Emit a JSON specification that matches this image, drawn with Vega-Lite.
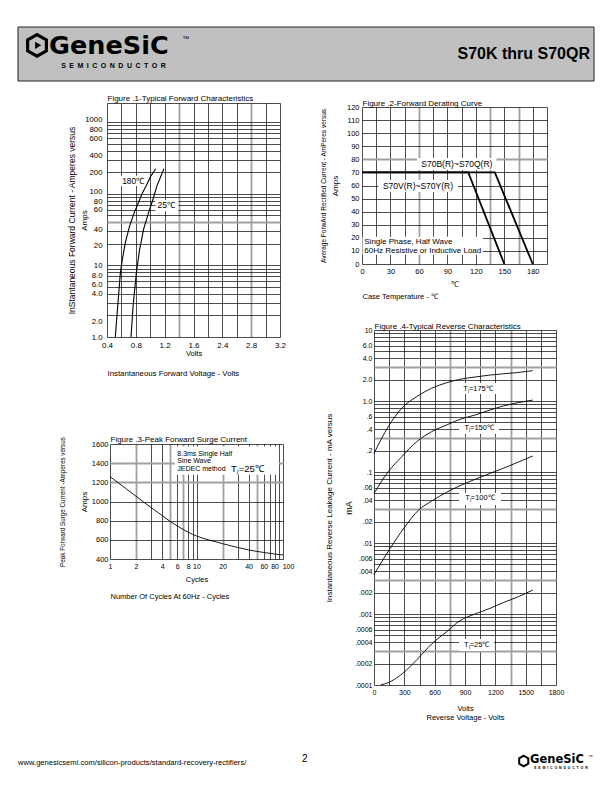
{
"$schema":"https://vega.github.io/schema/vega-lite/v6.json",
"width":612,"height":792,"autosize":{"type":"none"},"padding":0,"background":"white",
"config":{"font":"Liberation Sans","view":{"stroke":null},
 "axis":{"labelColor":"black","titleColor":"black","titleFontWeight":"normal","labelFont":"Liberation Sans","titleFont":"Liberation Sans","ticks":false,"domain":false,"grid":false,"labelOverlap":false,"labelFlush":false},
 "text":{"font":"Liberation Sans","color":"black"}},
"datasets":{
 "f1c":[{"s":"180","v":0.515,"a":1},{"s":"180","v":0.548,"a":2.65},{"s":"180","v":0.585,"a":7.8},{"s":"180","v":0.613,"a":12.1},{"s":"180","v":0.654,"a":20.8},{"s":"180","v":0.714,"a":35.6},{"s":"180","v":0.779,"a":55},{"s":"180","v":0.839,"a":76},{"s":"180","v":0.886,"a":100},{"s":"180","v":0.946,"a":130},{"s":"180","v":1.001,"a":171},{"s":"180","v":1.075,"a":224},
  {"s":"25","v":0.733,"a":1},{"s":"25","v":0.761,"a":2.65},{"s":"25","v":0.807,"a":7.8},{"s":"25","v":0.853,"a":16.7},{"s":"25","v":0.908,"a":32},{"s":"25","v":0.978,"a":55},{"s":"25","v":1.039,"a":84.5},{"s":"25","v":1.094,"a":130},{"s":"25","v":1.19,"a":224}],
 "f1t":[{"v":0.61,"a":150,"t":"180\u2103"},{"v":1.1,"a":70,"t":"25\u2103"}],
 "f1b":[{"v1":0.59,"v2":0.9,"a1":128,"a2":178},{"v1":1.07,"v2":1.39,"a1":57,"a2":82}],
 "f2c":[{"s":"B","t":0,"i":70},{"s":"B","t":140,"i":70},{"s":"B","t":180,"i":0},{"s":"V","t":0,"i":70},{"s":"V","t":112,"i":70},{"s":"V","t":150,"i":0}],
 "f2t":[{"t":100,"i":76.4,"label":"S70B(R)~S70Q(R)"},{"t":59,"i":59.6,"label":"S70V(R)~S70Y(R)"}],
 "f2n":[{"t":2.4,"i":17,"label":"Single Phase, Half Wave"},{"t":2.4,"i":10.1,"label":"60Hz Resistive or Inductive Load"}],
 "f2b":[{"t1":57.8,"t2":141.8,"i1":71.8,"i2":81},{"t1":17.1,"t2":101.2,"i1":55,"i2":64.2},{"t1":0.5,"t2":127.4,"i1":7.1,"i2":20.8}],
 "f3c":[{"n":1,"p":1260},{"n":1.5,"p":1140},{"n":2,"p":1055},{"n":3,"p":935},{"n":4,"p":855},{"n":5,"p":790},{"n":6,"p":745},{"n":8,"p":680},{"n":10,"p":640},{"n":15,"p":590},{"n":20,"p":560},{"n":30,"p":520},{"n":40,"p":495},{"n":60,"p":468},{"n":80,"p":452},{"n":100,"p":442}],
 "f3t":[{"n":6,"p":1500,"label":"8.3ms Single Half"},{"n":6,"p":1420,"label":"Sine Wave"},{"n":6,"p":1335,"label":"JEDEC method"}],
 "f3j":[{"n":25,"p":1340,"label":"T\u2c7c=25\u2103"}],
 "f3b":[{"n1":5.6,"n2":90,"p1":1280,"p2":1575}],
 "f4c":[{"s":"175","v":0,"ma":0.183},{"s":"175","v":141,"ma":0.435},{"s":"175","v":274,"ma":0.79},{"s":"175","v":422,"ma":1.15},{"s":"175","v":570,"ma":1.51},{"s":"175","v":719,"ma":1.81},{"s":"175","v":850,"ma":2.02},{"s":"175","v":1000,"ma":2.18},{"s":"175","v":1147,"ma":2.32},{"s":"175","v":1411,"ma":2.51},{"s":"175","v":1570,"ma":2.67},
  {"s":"150","v":0,"ma":0.05},{"s":"150","v":141,"ma":0.101},{"s":"150","v":274,"ma":0.164},{"s":"150","v":422,"ma":0.267},{"s":"150","v":570,"ma":0.37},{"s":"150","v":719,"ma":0.46},{"s":"150","v":850,"ma":0.552},{"s":"150","v":1000,"ma":0.635},{"s":"150","v":1147,"ma":0.746},{"s":"150","v":1279,"ma":0.85},{"s":"150","v":1570,"ma":1.03},
  {"s":"100","v":0,"ma":0.0036},{"s":"100","v":150,"ma":0.008},{"s":"100","v":300,"ma":0.0165},{"s":"100","v":440,"ma":0.029},{"s":"100","v":570,"ma":0.039},{"s":"100","v":720,"ma":0.052},{"s":"100","v":1000,"ma":0.079},{"s":"100","v":1280,"ma":0.113},{"s":"100","v":1570,"ma":0.168},
  {"s":"25","v":66,"ma":0.0001},{"s":"25","v":141,"ma":0.000108},{"s":"25","v":284,"ma":0.000146},{"s":"25","v":428,"ma":0.00023},{"s":"25","v":570,"ma":0.000378},{"s":"25","v":719,"ma":0.000564},{"s":"25","v":850,"ma":0.000805},{"s":"25","v":999,"ma":0.001},{"s":"25","v":1147,"ma":0.0012},{"s":"25","v":1279,"ma":0.00145},{"s":"25","v":1427,"ma":0.00175},{"s":"25","v":1570,"ma":0.00218}],
 "f4t":[{"v":1029,"ma":1.48,"label":"T\u2c7c=175\u2103"},{"v":1040,"ma":0.41,"label":"T\u2c7c=150\u2103"},{"v":1048,"ma":0.0426,"label":"T\u2c7c=100\u2103"},{"v":1016,"ma":0.000366,"label":"T\u2c7c=25\u2103"}],
 "f4b":[{"v1":831,"v2":1246,"m1":1.255,"m2":1.79},{"v1":841,"v2":1236,"m1":0.343,"m2":0.49},{"v1":841,"v2":1256,"m1":0.0343,"m2":0.0506},{"v1":841,"v2":1187,"m1":0.000301,"m2":0.000445}]
},
"resolve":{"scale":{"x":"independent","y":"independent"},"axis":{"x":"independent","y":"independent"}},
"layer":[
 {"data":{"values":[{}]},"layer":[
  {"mark":{"type":"rect","fill":"#c0c0c0","stroke":"#222","strokeWidth":1},
   "encoding":{"x":{"datum":0,"type":"quantitative","scale":{"domain":[0,1],"range":[18,594],"zero":false,"nice":false},"axis":null},"x2":{"datum":1},
    "y":{"datum":0,"type":"quantitative","scale":{"domain":[0,1],"range":[81,27],"zero":false,"nice":false},"axis":null},"y2":{"datum":1}}},
  {"mark":{"type":"point","shape":"M0,-1L0.866,-0.5L0.866,0.5L0,1L-0.866,0.5L-0.866,-0.5Z","filled":false,"stroke":"black","strokeWidth":3.2,"size":470,"opacity":1},
   "encoding":{"x":{"datum":0.033,"type":"quantitative","scale":{"domain":[0,1],"range":[18,594],"zero":false,"nice":false},"axis":null},
    "y":{"datum":0.66,"type":"quantitative","scale":{"domain":[0,1],"range":[81,27],"zero":false,"nice":false},"axis":null}}},
  {"mark":{"type":"point","shape":"triangle-right","filled":true,"color":"black","size":50,"opacity":1},
   "encoding":{"x":{"datum":0.035,"type":"quantitative","scale":{"domain":[0,1],"range":[18,594],"zero":false,"nice":false},"axis":null},
    "y":{"datum":0.66,"type":"quantitative","scale":{"domain":[0,1],"range":[81,27],"zero":false,"nice":false},"axis":null}}},
  {"mark":{"type":"text","text":"GeneSiC","font":"DejaVu Sans","fontWeight":"bold","fontSize":25.5,"align":"left","baseline":"middle"},
   "encoding":{"x":{"datum":0.054,"type":"quantitative","scale":{"domain":[0,1],"range":[18,594],"zero":false,"nice":false},"axis":null},
    "y":{"datum":0.655,"type":"quantitative","scale":{"domain":[0,1],"range":[81,27],"zero":false,"nice":false},"axis":null}}},
  {"mark":{"type":"text","text":"\u2122","fontSize":7,"align":"left","baseline":"middle"},
   "encoding":{"x":{"datum":0.285,"type":"quantitative","scale":{"domain":[0,1],"range":[18,594],"zero":false,"nice":false},"axis":null},
    "y":{"datum":0.78,"type":"quantitative","scale":{"domain":[0,1],"range":[81,27],"zero":false,"nice":false},"axis":null}}},
  {"mark":{"type":"text","text":"S\u2002E\u2002M\u2002I\u2002C\u2002O\u2002N\u2002D\u2002U\u2002C\u2002T\u2002O\u2002R","fontSize":7,"fontWeight":"bold","align":"left","baseline":"middle"},
   "encoding":{"x":{"datum":0.075,"type":"quantitative","scale":{"domain":[0,1],"range":[18,594],"zero":false,"nice":false},"axis":null},
    "y":{"datum":0.287,"type":"quantitative","scale":{"domain":[0,1],"range":[81,27],"zero":false,"nice":false},"axis":null}}},
  {"mark":{"type":"text","text":"S70K thru S70QR","fontSize":16,"fontWeight":"bold","align":"right","baseline":"middle"},
   "encoding":{"x":{"datum":0.993,"type":"quantitative","scale":{"domain":[0,1],"range":[18,594],"zero":false,"nice":false},"axis":null},
    "y":{"datum":0.5,"type":"quantitative","scale":{"domain":[0,1],"range":[81,27],"zero":false,"nice":false},"axis":null}}}
 ]},
 {"resolve":{"axis":{"x":"independent","y":"independent"}},"layer":[
  {"data":{"name":"f1b"},"mark":{"type":"rect","fill":"white"},
   "encoding":{"x":{"field":"v1","type":"quantitative","scale":{"domain":[0.4,2.8],"range":[107,280],"zero":false,"nice":false},
     "axis":{"orient":"bottom","offset":-455,"labels":false,"title":"Instantaneous Forward Voltage - Volts","titleAnchor":"start","titleFontSize":7.8,"titlePadding":32}},
    "x2":{"field":"v2"},
    "y":{"field":"a1","type":"quantitative","scale":{"type":"log","domain":[1,1850],"range":[337,103],"nice":false},"axis":null},"y2":{"field":"a2"}}},
  {"data":{"name":"f1c"},"mark":{"type":"line","color":"black","strokeWidth":1.1},
   "encoding":{"x":{"field":"v","type":"quantitative","scale":{"domain":[0.4,2.8],"range":[107,280],"zero":false,"nice":false},
     "axis":{"orient":"top","offset":-103,"grid":true,"labels":false,"values":[0.4,0.6,0.8,1,1.2,1.4,1.6,1.8,2,2.2,2.4,2.6,2.8],
      "gridColor":{"condition":{"test":"datum.value==1.4||datum.value==2.4","value":"#a0a0a0"},"value":"black"},
      "gridWidth":{"condition":{"test":"datum.value==1.4||datum.value==2.4","value":1.8},"value":0.7},
      "title":"Figure .1-Typical Forward Characteristics","titleAnchor":"start","titleFontSize":8,"titlePadding":1}},
    "y":{"field":"a","type":"quantitative","scale":{"type":"log","domain":[1,1850],"range":[337,103],"nice":false},
     "axis":{"orient":"left","offset":-107,"grid":true,"values":[1,2,3,4,5,6,7,8,9,10,20,30,40,50,60,70,80,90,100,200,300,400,500,600,700,800,900,1000,1850],
      "labelExpr":"indexof([1,2,4,6,8],datum.value)>=0 ? format(datum.value,'.1f') : (indexof([10,20,40,60,80,100,200,400,600,800,1000],datum.value)>=0 ? format(datum.value,'d') : '')",
      "labelFontSize":7.8,"labelPadding":5,
      "labelOffset":{"condition":[{"test":"datum.value==2","value":6},{"test":"datum.value==6||datum.value==8","value":3},{"test":"datum.value==20","value":2},{"test":"datum.value==40","value":7},{"test":"datum.value==400","value":5},{"test":"datum.value==1000","value":-3},{"test":"datum.value==100","value":-2},{"test":"datum.value==80","value":1}],"value":0},
      "gridColor":{"condition":{"test":"datum.value==40","value":"#a0a0a0"},"value":"black"},
      "gridWidth":{"condition":{"test":"datum.value==40","value":1.8},"value":0.7},
      "title":"InStantaneous Forward Current - Amperes versus","titleFontSize":8.5,"titlePadding":8}},
    "detail":{"field":"s"}}},
  {"data":{"name":"f1t"},"mark":{"type":"text","align":"left","baseline":"middle","fontSize":8.5},
   "encoding":{"x":{"field":"v","type":"quantitative","scale":{"domain":[0.4,2.8],"range":[107,280],"zero":false,"nice":false},
     "axis":{"orient":"bottom","offset":-455,"values":[0.4,0.8,1.2,1.6,2,2.4,2.8],"labelExpr":"datum.value>1.8 ? format(datum.value+0.4,'.1f') : format(datum.value,'.1f')","labelFontSize":8,"labelPadding":4,"title":"Volts","titleFontSize":7.5,"titlePadding":0}},
    "y":{"field":"a","type":"quantitative","scale":{"type":"log","domain":[1,1850],"range":[337,103],"nice":false},
     "axis":{"orient":"left","offset":-107,"labels":false,"title":"Amps","titleFontSize":8,"titlePadding":18.5}},
    "text":{"field":"t"}}}
 ]},
 {"resolve":{"axis":{"x":"independent","y":"independent"}},"layer":[
  {"data":{"name":"f2b"},"mark":{"type":"rect","fill":"white"},
   "encoding":{"x":{"field":"t1","type":"quantitative","scale":{"domain":[0,195],"range":[362,547],"zero":false,"nice":false},
     "axis":{"orient":"bottom","offset":-528,"labels":false,"title":"Case Temperature - \u2103","titleAnchor":"start","titleFontSize":7.5,"titlePadding":28.5}},
    "x2":{"field":"t2"},
    "y":{"field":"i1","type":"quantitative","scale":{"domain":[0,120],"range":[264,107],"zero":false,"nice":false},"axis":null},"y2":{"field":"i2"}}},
  {"data":{"name":"f2c"},"mark":{"type":"line","color":"black","strokeWidth":1.8},
   "encoding":{"x":{"field":"t","type":"quantitative","scale":{"domain":[0,195],"range":[362,547],"zero":false,"nice":false},
     "axis":{"orient":"top","offset":-107,"grid":true,"labels":false,"values":[0,15,30,45,60,75,90,105,120,135,150,165,180,195],
      "gridColor":{"condition":{"test":"indexof([60,135,165],datum.value)>=0","value":"#a0a0a0"},"value":"black"},
      "gridWidth":{"condition":{"test":"indexof([60,135,165],datum.value)>=0","value":1.8},"value":0.7},
      "title":"Figure .2-Forward Derating Curve","titleAnchor":"start","titleFontSize":8,"titlePadding":0}},
    "y":{"field":"i","type":"quantitative","scale":{"domain":[0,120],"range":[264,107],"zero":false,"nice":false},
     "axis":{"orient":"left","offset":-362,"grid":true,"values":[0,10,20,30,40,50,60,70,80,90,100,110,120],"format":"d","labelFontSize":7.5,"labelPadding":3,
      "gridColor":{"condition":{"test":"datum.value==80","value":"#a0a0a0"},"value":"black"},
      "gridWidth":{"condition":{"test":"datum.value==80","value":1.8},"value":0.7},
      "title":"Average ForwArd Rectified Current - AmPeres versus","titleFontSize":6.5,"titlePadding":20}},
    "detail":{"field":"s"}}},
  {"data":{"name":"f2t"},"mark":{"type":"text","align":"center","baseline":"middle","fontSize":8.5},
   "encoding":{"x":{"field":"t","type":"quantitative","scale":{"domain":[0,195],"range":[362,547],"zero":false,"nice":false},
     "axis":{"orient":"bottom","offset":-528,"values":[0,30,60,90,120,150,180],"format":"d","labelFontSize":7.5,"labelPadding":3,"title":"\u2103","titleFontSize":8,"titlePadding":6}},
    "y":{"field":"i","type":"quantitative","scale":{"domain":[0,120],"range":[264,107],"zero":false,"nice":false},
     "axis":{"orient":"left","offset":-362,"labels":false,"title":"Amps","titleFontSize":8,"titlePadding":22.5}},
    "text":{"field":"label"}}},
  {"data":{"name":"f2n"},"mark":{"type":"text","align":"left","baseline":"middle","fontSize":8},
   "encoding":{"x":{"field":"t","type":"quantitative","scale":{"domain":[0,195],"range":[362,547],"zero":false,"nice":false},"axis":null},
    "y":{"field":"i","type":"quantitative","scale":{"domain":[0,120],"range":[264,107],"zero":false,"nice":false},"axis":null},
    "text":{"field":"label"}}}
 ]},
 {"resolve":{"axis":{"x":"independent","y":"independent"}},"layer":[
  {"data":{"name":"f3b"},"mark":{"type":"rect","fill":"white"},
   "encoding":{"x":{"field":"n1","type":"quantitative","scale":{"type":"log","domain":[1,100],"range":[110,283],"nice":false},
     "axis":{"orient":"bottom","offset":-233,"labels":false,"title":"Number Of Cycles At 60Hz - Cycles","titleAnchor":"start","titleFontSize":7.5,"titlePadding":33.5}},
    "x2":{"field":"n2"},
    "y":{"field":"p1","type":"quantitative","scale":{"domain":[400,1600],"range":[559,444],"zero":false,"nice":false},"axis":null},"y2":{"field":"p2"}}},
  {"data":{"name":"f3c"},"mark":{"type":"line","color":"black","strokeWidth":0.9,"interpolate":"monotone"},
   "encoding":{"x":{"field":"n","type":"quantitative","scale":{"type":"log","domain":[1,100],"range":[110,283],"nice":false},
     "axis":{"orient":"top","offset":-444,"grid":true,"labels":false,"values":[1,2,3,4,5,6,7,8,9,10,20,30,40,50,60,70,80,90,100],
      "gridColor":{"condition":{"test":"indexof([2,5,7,20,50],datum.value)>=0","value":"#a0a0a0"},"value":"black"},
      "gridWidth":{"condition":{"test":"indexof([2,5,7,20,50],datum.value)>=0","value":1.8},"value":0.7},
      "title":"Figure .3-Peak Forward Surge Current","titleAnchor":"start","titleFontSize":8,"titlePadding":1}},
    "y":{"field":"p","type":"quantitative","scale":{"domain":[400,1600],"range":[559,444],"zero":false,"nice":false},
     "axis":{"orient":"left","offset":-110,"grid":true,"values":[400,600,800,1000,1200,1400,1600],"format":"d","labelFontSize":7.5,"labelPadding":2,
      "gridColor":{"condition":{"test":"datum.value==1200||datum.value==1400","value":"#a0a0a0"},"value":"black"},
      "gridWidth":{"condition":{"test":"datum.value==1200||datum.value==1400","value":1.8},"value":0.7},
      "title":"Peak Forward Surge Current -Amperes versus","titleFontSize":6.3,"titlePadding":26}}}},
  {"data":{"name":"f3t"},"mark":{"type":"text","align":"left","baseline":"middle","fontSize":7},
   "encoding":{"x":{"field":"n","type":"quantitative","scale":{"type":"log","domain":[1,100],"range":[110,283],"nice":false},
     "axis":{"orient":"bottom","offset":-233,"values":[1,2,4,6,8,10,20,40,60,80,100],"format":"d","labelFontSize":7,"labelPadding":3,
      "labelOffset":{"condition":{"test":"datum.value==100","value":5},"value":0},
      "title":"Cycles","titleFontSize":7.5,"titlePadding":6}},
    "y":{"field":"p","type":"quantitative","scale":{"domain":[400,1600],"range":[559,444],"zero":false,"nice":false},
     "axis":{"orient":"left","offset":-110,"labels":false,"title":"Amps","titleFontSize":8,"titlePadding":22}},
    "text":{"field":"label"}}},
  {"data":{"name":"f3j"},"mark":{"type":"text","align":"left","baseline":"middle","fontSize":9.5},
   "encoding":{"x":{"field":"n","type":"quantitative","scale":{"type":"log","domain":[1,100],"range":[110,283],"nice":false},"axis":null},
    "y":{"field":"p","type":"quantitative","scale":{"domain":[400,1600],"range":[559,444],"zero":false,"nice":false},"axis":null},
    "text":{"field":"label"}}}
 ]},
 {"resolve":{"axis":{"x":"independent","y":"independent"}},"layer":[
  {"data":{"name":"f4b"},"mark":{"type":"rect","fill":"white"},
   "encoding":{"x":{"field":"v1","type":"quantitative","scale":{"domain":[0,1800],"range":[374,556],"zero":false,"nice":false},"axis":null},
    "x2":{"field":"v2"},
    "y":{"field":"m1","type":"quantitative","scale":{"type":"log","domain":[0.0001,10],"range":[685,330],"nice":false},"axis":null},"y2":{"field":"m2"}}},
  {"data":{"name":"f4c"},"mark":{"type":"line","color":"black","strokeWidth":0.9,"interpolate":"monotone"},
   "encoding":{"x":{"field":"v","type":"quantitative","scale":{"domain":[0,1800],"range":[374,556],"zero":false,"nice":false},
     "axis":{"orient":"top","offset":-330,"grid":true,"labels":false,"values":[0,150,300,450,600,750,900,1050,1200,1350,1500,1650,1800],
      "gridColor":{"condition":{"test":"datum.value==750||datum.value==1350","value":"#a0a0a0"},"value":"black"},
      "gridWidth":{"condition":{"test":"datum.value==750||datum.value==1350","value":1.8},"value":0.7},
      "title":"Figure .4-Typical Reverse Characteristics","titleAnchor":"start","titleFontSize":8,"titlePadding":0}},
    "y":{"field":"ma","type":"quantitative","scale":{"type":"log","domain":[0.0001,10],"range":[685,330],"nice":false},
     "axis":{"orient":"left","offset":-374,"grid":true,
      "values":[0.0001,0.0002,0.0003,0.0004,0.0005,0.0006,0.0007,0.0008,0.0009,0.001,0.002,0.003,0.004,0.005,0.006,0.007,0.008,0.009,0.01,0.02,0.03,0.04,0.05,0.06,0.07,0.08,0.09,0.1,0.2,0.3,0.4,0.5,0.6,0.7,0.8,0.9,1,2,3,4,5,6,7,8,9,10],
      "labelExpr":"datum.value==10 ? '10' : (indexof([6,4,2,1],datum.value)>=0 ? format(datum.value,'.1f') : (indexof([0.6,0.4,0.2,0.1,0.06,0.04,0.02,0.01,0.006,0.004,0.002,0.001,0.0006,0.0004,0.0002,0.0001],datum.value)>=0 ? replace(format(datum.value,'~g'),'0.','.') : ''))",
      "labelFontSize":7,"labelPadding":2,
      "gridColor":{"condition":{"test":"indexof([0.0003,0.003,0.03,0.3,3],datum.value)>=0","value":"#a0a0a0"},"value":"black"},
      "gridWidth":{"condition":{"test":"indexof([0.0003,0.003,0.03,0.3,3],datum.value)>=0","value":1.8},"value":0.7},
      "title":"Instantaneous Reverse Leakage Current - mA versus","titleFontSize":8,"titlePadding":21}},
    "detail":{"field":"s"}}},
  {"data":{"name":"f4t"},"mark":{"type":"text","align":"center","baseline":"middle","fontSize":7.5},
   "encoding":{"x":{"field":"v","type":"quantitative","scale":{"domain":[0,1800],"range":[374,556],"zero":false,"nice":false},
     "axis":{"orient":"bottom","offset":-107,"values":[0,300,600,900,1200,1500,1800],"format":"d","labelFontSize":7,"labelPadding":3,"title":["Volts","Reverse Voltage - Volts"],"titleFontSize":7.5,"titleLineHeight":9.5,"titlePadding":9}},
    "y":{"field":"ma","type":"quantitative","scale":{"type":"log","domain":[0.0001,10],"range":[685,330],"nice":false},
     "axis":{"orient":"left","offset":-374,"labels":false,"title":"mA","titleFontSize":9,"titlePadding":20.5}},
    "text":{"field":"label"}}}
 ]},
 {"data":{"values":[{}]},"layer":[
  {"mark":{"type":"text","text":"www.genesicsemi.com/silicon-products/standard-recovery-rectifiers/","fontSize":7.6,"align":"left","baseline":"middle"},
   "encoding":{"x":{"datum":0,"type":"quantitative","scale":{"domain":[0,1],"range":[18,594],"zero":false,"nice":false},"axis":null},
    "y":{"datum":0.48,"type":"quantitative","scale":{"domain":[0,1],"range":[775,750],"zero":false,"nice":false},"axis":null}}},
  {"mark":{"type":"text","text":"2","fontSize":10,"align":"center","baseline":"middle"},
   "encoding":{"x":{"datum":0.498,"type":"quantitative","scale":{"domain":[0,1],"range":[18,594],"zero":false,"nice":false},"axis":null},
    "y":{"datum":0.64,"type":"quantitative","scale":{"domain":[0,1],"range":[775,750],"zero":false,"nice":false},"axis":null}}},
  {"mark":{"type":"point","shape":"M0,-1L0.866,-0.5L0.866,0.5L0,1L-0.866,0.5L-0.866,-0.5Z","filled":false,"stroke":"black","strokeWidth":2,"size":110,"opacity":1},
   "encoding":{"x":{"datum":0.878,"type":"quantitative","scale":{"domain":[0,1],"range":[18,594],"zero":false,"nice":false},"axis":null},
    "y":{"datum":0.56,"type":"quantitative","scale":{"domain":[0,1],"range":[775,750],"zero":false,"nice":false},"axis":null}}},
  {"mark":{"type":"text","text":"GeneSiC","font":"DejaVu Sans","fontWeight":"bold","fontSize":11.5,"align":"left","baseline":"middle"},
   "encoding":{"x":{"datum":0.889,"type":"quantitative","scale":{"domain":[0,1],"range":[18,594],"zero":false,"nice":false},"axis":null},
    "y":{"datum":0.6,"type":"quantitative","scale":{"domain":[0,1],"range":[775,750],"zero":false,"nice":false},"axis":null}}},
  {"mark":{"type":"text","text":"S\u2002E\u2002M\u2002I\u2002C\u2002O\u2002N\u2002D\u2002U\u2002C\u2002T\u2002O\u2002R","fontSize":3.6,"fontWeight":"bold","align":"left","baseline":"middle"},
   "encoding":{"x":{"datum":0.896,"type":"quantitative","scale":{"domain":[0,1],"range":[18,594],"zero":false,"nice":false},"axis":null},
    "y":{"datum":0.28,"type":"quantitative","scale":{"domain":[0,1],"range":[775,750],"zero":false,"nice":false},"axis":null}}},
  {"mark":{"type":"text","text":"\u2122","fontSize":4.5,"align":"left","baseline":"middle"},
   "encoding":{"x":{"datum":0.99,"type":"quantitative","scale":{"domain":[0,1],"range":[18,594],"zero":false,"nice":false},"axis":null},
    "y":{"datum":0.74,"type":"quantitative","scale":{"domain":[0,1],"range":[775,750],"zero":false,"nice":false},"axis":null}}}
 ]}
]
}
